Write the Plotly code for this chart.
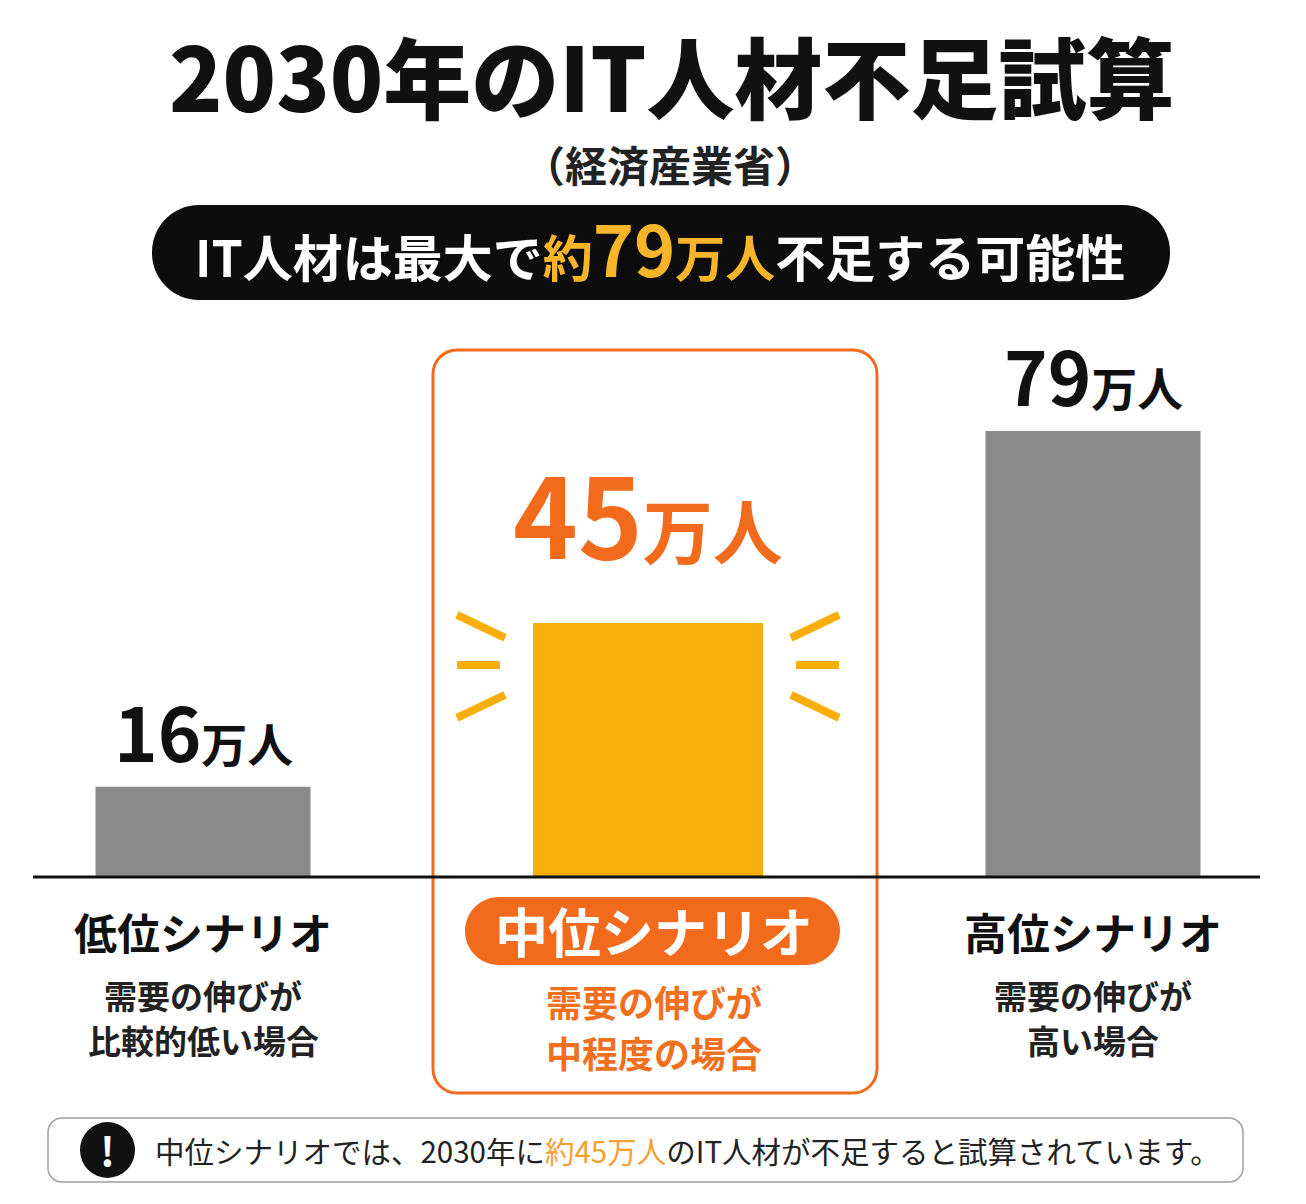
import plotly.graph_objects as go

# data
scenarios = ["低位シナリオ", "中位シナリオ", "高位シナリオ"]
shortage = [16, 45, 79]          # 万人
unit = "万人"
descriptions = [["需要の伸びが", "比較的低い場合"],
                ["需要の伸びが", "中程度の場合"],
                ["需要の伸びが", "高い場合"]]
title = "2030年のIT人材不足試算"
source = "（経済産業省）"
headline_pre = "IT人材は最大で"
headline_hi = ["約", "79", "万人"]
headline_post = "不足する可能性"
note_pre = "中位シナリオでは、2030年に"
note_hi = "約45万人"
note_post = "のIT人材が不足すると試算されています。"

W, H = 1306, 1204
OFF = 8                       # page body margin
FONT = "Noto Sans CJK JP"
BLACK = "#111111"
GREY = "#8a8a8a"
AMBER = "#F9AE0B"
ORANGE = "#F26B1D"

BASE_PX = 877                 # baseline pixel row
PXY = 446 / 79                # pixels per 万人
PXX = 445                     # pixels per category step
X0_PX = 203                   # pixel of first category


def px(x):
    return (x - OFF) / W


def py(y):
    return 1 - (y - OFF) / H


def rrect(x0, y0, x1, y1, r):
    k = 0.5523 * r
    pts = [("M", [(x0 + r, y0)]), ("L", [(x1 - r, y0)]),
           ("C", [(x1 - r + k, y0), (x1, y0 + r - k), (x1, y0 + r)]),
           ("L", [(x1, y1 - r)]),
           ("C", [(x1, y1 - r + k), (x1 - r + k, y1), (x1 - r, y1)]),
           ("L", [(x0 + r, y1)]),
           ("C", [(x0 + r - k, y1), (x0, y1 - r + k), (x0, y1 - r)]),
           ("L", [(x0, y0 + r)]),
           ("C", [(x0, y0 + r - k), (x0 + r - k, y0), (x0 + r, y0)])]
    s = ""
    for cmd, ps in pts:
        s += cmd + " ".join(f"{px(a):.5f},{py(b):.5f}" for a, b in ps) + " "
    return s + "Z"


colors = [GREY, AMBER, GREY]
widths = [215 / PXX, 230 / PXX, 215 / PXX]

fig = go.Figure()
fig.add_trace(go.Bar(x=scenarios, y=shortage, width=widths,
                     marker=dict(color=colors, line=dict(width=0)),
                     hoverinfo="skip"))

shapes = []
ann = []

# highlight box around the middle scenario
shapes.append(dict(type="path", path=rrect(433, 350, 877, 1093, 24), xref="paper", yref="paper",
                   line=dict(color=ORANGE, width=3), fillcolor="rgba(0,0,0,0)", layer="below"))

# baseline
shapes.append(dict(type="line", xref="paper", yref="y", x0=px(33), x1=px(1260), y0=0, y1=0,
                   line=dict(color=BLACK, width=3)))

# rays around the middle bar (offsets in px from bar top / centre)
mid = scenarios.index("中位シナリオ")
top = shortage[mid]
rays = [(-191, -8, -143, 15), (-191, 42, -148, 42), (-191, 95, -143, 72)]
for dx0, dy0, dx1, dy1 in rays:
    for sgn in (1, -1):
        shapes.append(dict(type="line", xref="x", yref="y",
                           x0=mid + sgn * dx0 / PXX, x1=mid + sgn * dx1 / PXX,
                           y0=top - dy0 / PXY, y1=top - dy1 / PXY,
                           line=dict(color=AMBER, width=8)))

# title block
ann.append(dict(text=title, x=px(672), y=py(74),
                font=dict(size=88, color=BLACK, family=FONT, weight=900)))
ann.append(dict(text=f"<b>{source}</b>", x=px(670), y=py(163), font=dict(size=42, color="#222222", family=FONT)))

shapes.append(dict(type="path", path=rrect(152, 205, 1170, 300, 47), xref="paper", yref="paper",
                   line=dict(width=0), fillcolor="#0d0d0d"))
hl = (f"<b>{headline_pre}<span style='color:#F8B52A'>{headline_hi[0]}"
      f"<span style='font-size:70px'>{headline_hi[1]}</span>{headline_hi[2]}</span>{headline_post}</b>")
ann.append(dict(text=hl, x=px(660), y=py(246), font=dict(size=50, color="white", family=FONT)))

# value labels
for i, (s, v) in enumerate(zip(scenarios, shortage)):
    if i == mid:
        t = f"<b>{v}<span style='font-size:70px'>{unit}</span></b>"
        ann.append(dict(text=t, x=s, xref="x", y=v, yref="y", yanchor="bottom", yshift=30,
                        font=dict(size=110, color=ORANGE, family=FONT)))
    else:
        t = f"<b>{v}<span style='font-size:46px'>{unit}</span></b>"
        ann.append(dict(text=t, x=s, xref="x", y=v, yref="y", yanchor="bottom", yshift=2,
                        font=dict(size=74, color=BLACK, family=FONT)))

# scenario names and descriptions
for i, s in enumerate(scenarios):
    if i == mid:
        shapes.append(dict(type="path", path=rrect(465, 897, 840, 965, 34), xref="paper", yref="paper",
                           line=dict(width=0), fillcolor=ORANGE))
        ann.append(dict(text=f"<b>{s}</b>", x=px(654), y=py(930),
                        font=dict(size=53, color="white", family=FONT)))
        for j, line in enumerate(descriptions[i]):
            ann.append(dict(text=f"<b>{line}</b>", x=px(654), y=py(1001 + 51 * j),
                            font=dict(size=36, color="#F0701E", family=FONT)))
    else:
        ann.append(dict(text=f"<b>{s}</b>", x=s, xref="x", y=py(931),
                        font=dict(size=43, color=BLACK, family=FONT)))
        for j, line in enumerate(descriptions[i]):
            ann.append(dict(text=f"<b>{line}</b>", x=s, xref="x", y=py(995 + 45 * j),
                            font=dict(size=33, color="#222222", family=FONT)))

# note at the bottom
shapes.append(dict(type="path", path=rrect(48, 1118, 1243, 1182, 14), xref="paper", yref="paper",
                   line=dict(color="#a0a0a0", width=1.5), fillcolor="white"))
shapes.append(dict(type="circle", xref="paper", yref="paper", x0=px(80), x1=px(135),
                   y0=py(1122), y1=py(1178), fillcolor=BLACK, line=dict(width=0)))
ann.append(dict(text="<b>!</b>", x=px(107.5), y=py(1149), font=dict(size=40, color="white", family=FONT)))
note = f"{note_pre}<span style='color:#F5A030'>{note_hi}</span>{note_post}"
ann.append(dict(text=note, x=px(153), y=py(1150), xanchor="left",
                font=dict(size=29.5, color="#222222", family=FONT)))

for a in ann:
    a.setdefault("xref", "paper")
    a.setdefault("yref", "paper")
    a.setdefault("yanchor", "middle")
    a.setdefault("xanchor", "center")
    a["showarrow"] = False

fig.update_layout(
    width=W, height=H,
    margin=dict(l=0, r=0, t=0, b=0),
    paper_bgcolor="white", plot_bgcolor="white",
    showlegend=False,
    shapes=shapes, annotations=ann,
    xaxis=dict(range=[-(X0_PX - OFF) / PXX, (W - (X0_PX - OFF)) / PXX], visible=False, fixedrange=True),
    yaxis=dict(range=[-(H - (BASE_PX - OFF)) / PXY, (BASE_PX - OFF) / PXY], visible=False, fixedrange=True),
)

fig.write_html("out.html")
